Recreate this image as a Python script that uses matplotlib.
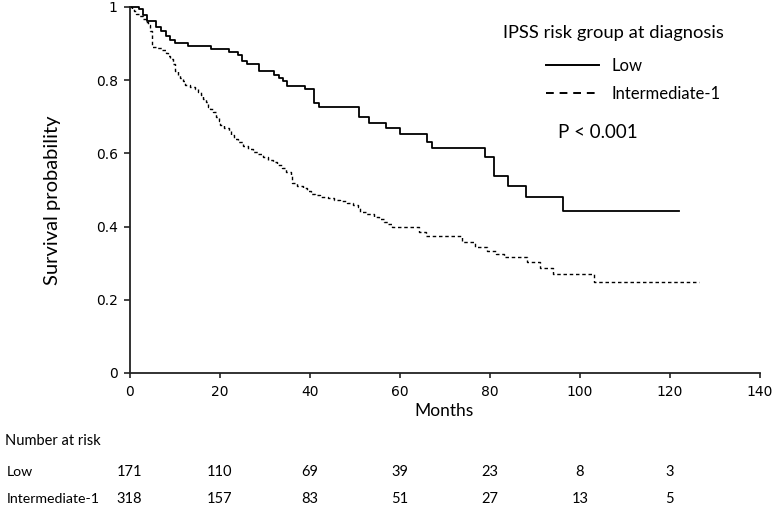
import matplotlib
matplotlib.use('Agg')
import matplotlib.pyplot as plt
from matplotlib.lines import Line2D
from matplotlib.transforms import blended_transform_factory

# Kaplan-Meier step data (months, survival after the step)
low_times = [0, 2.0, 2.9, 3.8, 5.9, 6.9, 8.0, 9.0, 10.0, 13.1, 18.0, 22.0, 24.0, 25.0,
             26.0, 28.8, 32.0, 33.1, 34.0, 34.9, 39.0, 40.9, 42.0, 51.0, 53.1, 57.0,
             60.0, 66.0, 67.1, 79.0, 81.0, 84.0, 88.1, 96.2, 122.1]
low_surv = [1.0, 0.994, 0.978, 0.963, 0.944, 0.935, 0.922, 0.910, 0.902, 0.894, 0.886,
            0.878, 0.869, 0.852, 0.844, 0.825, 0.814, 0.805, 0.798, 0.784, 0.775, 0.739,
            0.728, 0.699, 0.684, 0.669, 0.653, 0.632, 0.614, 0.589, 0.538, 0.511, 0.480,
            0.443, 0.443]

int_times = [0, 0.5, 1.0, 1.5, 2.2, 3.0, 3.6, 4.2, 4.6, 4.9, 5.1, 6.2, 7.2, 8.0, 8.6,
             9.1, 9.6, 10.1, 10.7, 11.3, 11.8, 12.4, 13.5, 14.6, 15.2, 15.8, 16.4, 16.9,
             17.4, 17.9, 18.6, 19.3, 19.8, 20.2, 21.0, 22.0, 22.6, 23.2, 24.2, 25.3, 26.4,
             27.4, 28.5, 29.7, 30.8, 31.8, 32.8, 33.8, 34.8, 35.8, 36.1, 37.3, 38.6, 39.4,
             40.2, 41.3, 42.4, 44.0, 45.3, 46.8, 48.3, 49.6, 50.8, 51.2, 52.5, 54.2, 55.3,
             56.4, 57.4, 58.3, 64.2, 65.8, 73.8, 76.8, 79.4, 81.3, 83.1, 88.3, 91.2, 94.0,
             103.1, 126.4]
int_surv = [1.0, 0.994, 0.988, 0.982, 0.975, 0.968, 0.960, 0.951, 0.935, 0.915, 0.892,
            0.887, 0.882, 0.875, 0.867, 0.858, 0.845, 0.825, 0.815, 0.805, 0.797, 0.787,
            0.781, 0.775, 0.768, 0.760, 0.750, 0.741, 0.728, 0.720, 0.712, 0.700, 0.688,
            0.677, 0.670, 0.660, 0.650, 0.640, 0.630, 0.620, 0.612, 0.605, 0.598, 0.591,
            0.583, 0.576, 0.568, 0.560, 0.550, 0.538, 0.518, 0.512, 0.505, 0.498, 0.490,
            0.485, 0.481, 0.478, 0.474, 0.470, 0.465, 0.460, 0.453, 0.441, 0.435, 0.427,
            0.420, 0.413, 0.406, 0.398, 0.386, 0.373, 0.357, 0.345, 0.334, 0.326, 0.318,
            0.304, 0.288, 0.270, 0.250, 0.250]

x_ticks = [0, 20, 40, 60, 80, 100, 120, 140]
y_ticks = [0, 0.2, 0.4, 0.6, 0.8, 1]
y_tick_labels = ['0', '0.2', '0.4', '0.6', '0.8', '1']

risk_times = [0, 20, 40, 60, 80, 100, 120]
risk_low = [171, 110, 69, 39, 23, 8, 3]
risk_int = [318, 157, 83, 51, 27, 13, 5]

group_names = ['Low', 'Intermediate-1']

label_font = 'Lato'

fig = plt.figure(figsize=(7.76, 5.12), dpi=100)
ax = fig.add_axes([129.5 / 776, 139 / 512, 630.5 / 776, 366 / 512])

ax.step(low_times, low_surv, where='post', color='black', lw=1.3, clip_on=False)
ax.step(int_times, int_surv, where='post', color='black', lw=1.0,
        linestyle=(0, (2.5, 2)), clip_on=False)

ax.set_xlim(0, 140)
ax.set_ylim(0, 1)
ax.set_xticks(x_ticks)
ax.set_yticks(y_ticks)
ax.set_yticklabels(y_tick_labels)
ax.tick_params(axis='both', direction='out', labelsize=10, width=1.2, color='#222222')
ax.tick_params(axis='x', length=3.5, pad=5)
ax.tick_params(axis='y', length=4.5, pad=4)
for s in ['top', 'right']:
    ax.spines[s].set_visible(False)
for s in ['left', 'bottom']:
    ax.spines[s].set_linewidth(1.3)
    ax.spines[s].set_color('#222222')

# axis titles
fig.text(444 / 776, 1 - 411 / 512, 'Months', ha='center', va='center',
         fontsize=12.5, family=label_font)
fig.text(53 / 776, 1 - 200 / 512, 'Survival probability', ha='center', va='center',
         rotation=90, fontsize=14.5, family=label_font)

# legend
handles = [Line2D([], [], color='black', lw=1.4),
           Line2D([], [], color='black', lw=1.4, linestyle=(0, (4, 3)))]
leg = fig.legend(handles, group_names, loc='upper left',
                 bbox_to_anchor=(546 / 776, 1 - 58 / 512), frameon=False,
                 borderpad=0, borderaxespad=0, handlelength=3.2, handletextpad=0.75,
                 labelspacing=0.7, prop={'family': label_font, 'size': 12})
fig.text(503 / 776, 1 - 33 / 512, 'IPSS risk group at diagnosis', ha='left', va='center',
         fontsize=13.2, family=label_font)
fig.text(558 / 776, 1 - 133 / 512, 'P < 0.001', ha='left', va='center',
         fontsize=13.5, family=label_font)

# number at risk table
tr = blended_transform_factory(ax.transData, fig.transFigure)
fig.text(5 / 776, 1 - 441 / 512, 'Number at risk', ha='left', va='center',
         fontsize=10.5, family=label_font)
row_y = [1 - 472 / 512, 1 - 499 / 512]
for name, counts, y in zip(group_names, [risk_low, risk_int], row_y):
    fig.text(7 / 776, y, name, ha='left', va='center', fontsize=10.2, family=label_font)
    for t, n in zip(risk_times, counts):
        ax.text(t, y, str(n), transform=tr, ha='center', va='center',
                fontsize=10.5, family=label_font)

fig.savefig('out.png', dpi=100)
